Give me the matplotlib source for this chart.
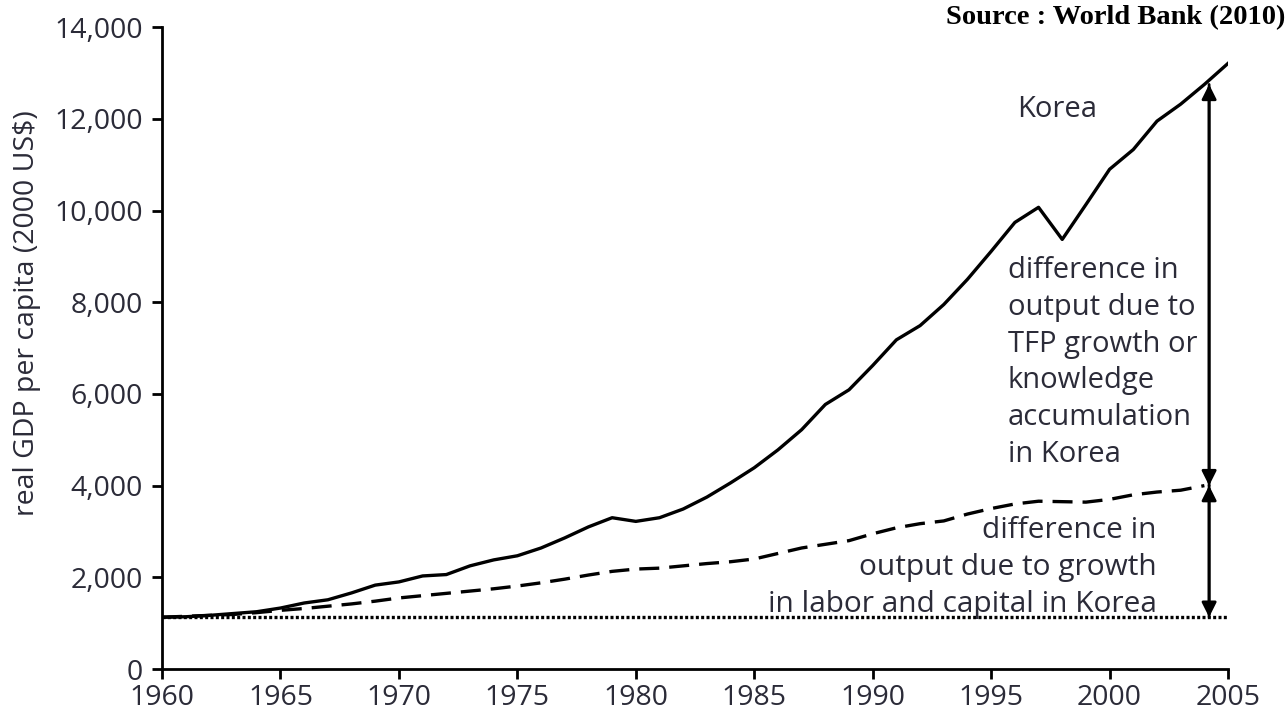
import matplotlib
matplotlib.use("Agg")
import matplotlib.pyplot as plt

# Korea real GDP per capita (2000 US$)
years = list(range(1960, 2006))
korea = [1130, 1140, 1170, 1210, 1250, 1330, 1440, 1510, 1660, 1830,
         1900, 2030, 2060, 2250, 2380, 2470, 2640, 2860, 3100, 3300,
         3220, 3300, 3490, 3750, 4060, 4390, 4780, 5220, 5770, 6090,
         6620, 7180, 7490, 7950, 8500, 9110, 9740, 10070, 9370, 10130,
         10900, 11330, 11950, 12320, 12750, 13210]

# output with growth in labor and capital only
inputs_years = list(range(1960, 2005))
inputs_only = [1130, 1150, 1170, 1190, 1230, 1280, 1320, 1370, 1420, 1480,
               1550, 1600, 1650, 1700, 1750, 1810, 1880, 1960, 2050, 2130,
               2180, 2200, 2250, 2300, 2340, 2400, 2520, 2640, 2720, 2800,
               2950, 3080, 3170, 3230, 3380, 3500, 3600, 3660, 3650, 3640,
               3700, 3800, 3860, 3900, 4000]

base_level = 1130
yticks = [0, 2000, 4000, 6000, 8000, 10000, 12000, 14000]
xticks = [1960, 1965, 1970, 1975, 1980, 1985, 1990, 1995, 2000, 2005]

txt_color = "#2b2b38"
font = ["Open Sans", "DejaVu Sans"]
fs = 21

fig = plt.figure(figsize=(12.87, 7.14), dpi=100)
ax = fig.add_axes([0.1259, 0.063, 0.8283, 0.899])

ax.plot(years, korea, color="black", lw=2.4, solid_joinstyle="round")
ax.plot(inputs_years, inputs_only, color="black", lw=2.4, dashes=(6, 3))
ax.plot([years[0], years[-1]], [base_level, base_level], color="black",
        lw=2.4, dashes=(0.9, 0.7))

# double arrows at the end of the series
arrow_x = inputs_years[-1] + 0.2
top_val = korea[-2]
mid_val = inputs_only[-1]
for y0, y1 in [(mid_val, top_val), (mid_val, base_level)]:
    ax.annotate("", xy=(arrow_x, y1), xytext=(arrow_x, y0),
                arrowprops=dict(arrowstyle="-|>", color="black", lw=2,
                                mutation_scale=22, shrinkA=0, shrinkB=0))
    ax.annotate("", xy=(arrow_x, y0), xytext=(arrow_x, y1),
                arrowprops=dict(arrowstyle="-|>", color="black", lw=2,
                                mutation_scale=22, shrinkA=0, shrinkB=0))

# va="baseline" puts the last line's baseline at the given y
ax.text(1997.8, 12050, "Korea", ha="center", va="baseline", fontsize=fs,
        color=txt_color, family=font)
ax.text(1995.7, 4520, "difference in\noutput due to\nTFP growth or\nknowledge\naccumulation\nin Korea",
        ha="left", va="baseline", fontsize=fs, color=txt_color, family=font,
        linespacing=1.35)
ax.text(2002.0, 1250, "difference in\noutput due to growth\nin labor and capital in Korea",
        ha="right", va="baseline", fontsize=fs + 0.5, color=txt_color, family=font,
        linespacing=1.35, multialignment="right")

ax.set_xlim(1960, 2005)
ax.set_ylim(0, 14000)
ax.set_xticks(xticks)
ax.set_yticks(yticks)
ax.set_yticklabels([f"{v:,}" for v in yticks])
for lab in ax.get_xticklabels() + ax.get_yticklabels():
    lab.set_family(font)
    lab.set_fontsize(20.5)
    lab.set_color(txt_color)
ax.tick_params(direction="out", length=7, width=2, color="black")
ax.tick_params(axis="x", pad=4)
ax.tick_params(axis="y", pad=7)
ax.spines["top"].set_visible(False)
ax.spines["right"].set_visible(False)
for s in ("left", "bottom"):
    ax.spines[s].set_linewidth(2)
ax.set_ylabel("real GDP per capita (2000 US\\$)", fontsize=20.5, color=txt_color,
              family=font)
ax.yaxis.set_label_coords(-0.114, 0.555)

fig.text(0.9985, 0.975, "Source : World Bank (2010)", ha="right", va="center",
         fontsize=20.5, fontweight="bold", family="Liberation Serif")

fig.savefig("out.png", dpi=100)
